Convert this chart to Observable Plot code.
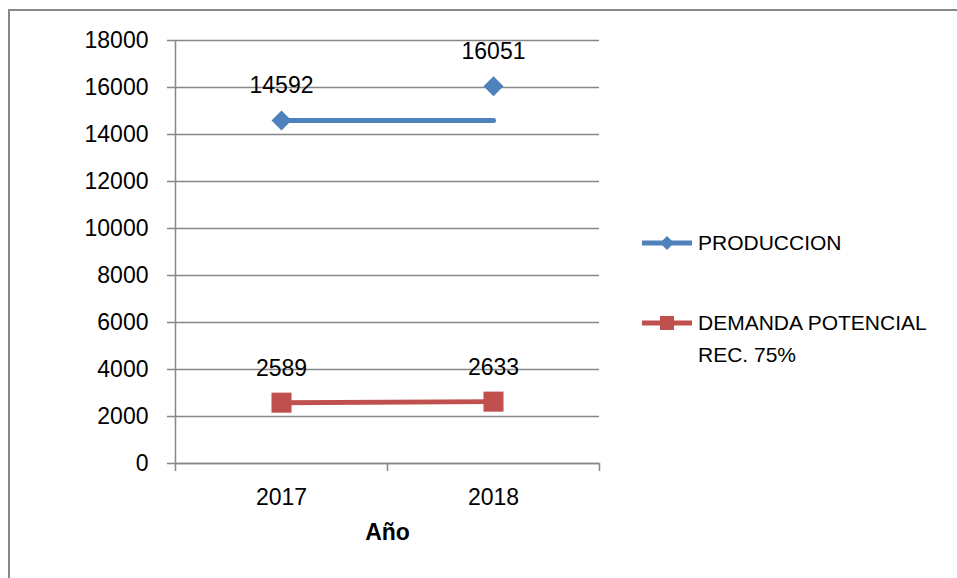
<!DOCTYPE html>
<html>
<head>
<meta charset="utf-8">
<script src="https://cdn.jsdelivr.net/npm/d3@7"></script>
<script src="https://cdn.jsdelivr.net/npm/@observablehq/plot@0.6"></script>
<style>
  html, body { margin: 0; padding: 0; background: #fff; width: 957px; height: 578px; overflow: hidden; }
  #wrap { position: relative; width: 957px; height: 578px; font-family: "Liberation Sans", Arial, sans-serif; }
  #frame { position: absolute; left: 8px; top: 9px; width: 1000px; height: 700px; border: 2px solid #878787; box-sizing: border-box; pointer-events: none; }
  #chart { position: absolute; left: 0; top: 0; }
  #legend { position: absolute; left: 642px; top: 227px; font-size: 21px; color: #000; }
  .item { display: flex; align-items: flex-start; position: absolute; left: 0; white-space: nowrap; line-height: 32px; }
  .item svg { margin-top: 0; margin-right: 6px; }
</style>
</head>
<body>
<div id="wrap">
  <div id="chart"></div>
  <div id="frame"></div>
  <div id="legend"></div>
</div>
<script>
// ---- data ----
const years = [2017, 2018];
const produccion = [14592, 16051];
const demanda = [2589, 2633];
// line of the PRODUCCION series as drawn in the picture (flat segment)
const produccionLinea = [14592, 14592];
const yTicks = [0, 2000, 4000, 6000, 8000, 10000, 12000, 14000, 16000, 18000];
const categoryBounds = [2016.5, 2017.5, 2018.5];
const seriesNames = ["PRODUCCION", "DEMANDA POTENCIAL\nREC. 75%"];
const xTitle = "Año";

const blue = "#4F81BD";
const red = "#C0504D";
const grid = "#878787";

const prodPts = years.map((y, i) => ({year: y, value: produccion[i]}));
const prodLine = years.map((y, i) => ({year: y, value: produccionLinea[i]}));
const demPts = years.map((y, i) => ({year: y, value: demanda[i]}));

const plot = Plot.plot({
  width: 957,
  height: 578,
  marginLeft: 175,
  marginRight: 358,
  marginTop: 40,
  marginBottom: 115,
  style: {fontFamily: "Liberation Sans, Arial, sans-serif", fontSize: "23px", color: "#000", background: "transparent"},
  x: {type: "linear", domain: [2016.5, 2018.5]},
  y: {domain: [0, 18000]},
  marks: [
    Plot.gridY(yTicks, {stroke: grid, strokeOpacity: 1, strokeWidth: 1.5}),
    Plot.ruleX([categoryBounds[0]], {stroke: grid, strokeWidth: 1.5}),
    Plot.ruleY([0], {stroke: grid, strokeWidth: 1.5}),
    Plot.axisY(yTicks, {tickSize: 8, tickPadding: 19, stroke: grid, strokeWidth: 1.5, tickFormat: d => String(d), label: null, fontSize: 23}),
    Plot.axisX(categoryBounds, {tickSize: 8, stroke: grid, strokeWidth: 1.5, tickFormat: () => "", label: null}),
    Plot.axisX(years, {tickSize: 0, tickPadding: 25, tickFormat: d => String(d), label: null, fontSize: 23}),
    Plot.line(prodLine, {x: "year", y: "value", stroke: blue, strokeWidth: 5}),
    Plot.line(demPts, {x: "year", y: "value", stroke: red, strokeWidth: 5}),
    Plot.dot(prodPts, {x: "year", y: "value", symbol: "diamond2", r: 9, fill: blue, stroke: "none"}),
    Plot.dot(demPts, {x: "year", y: "value", symbol: "square", r: 11.3, fill: red, stroke: "none"}),
    Plot.text(prodPts, {x: "year", y: "value", text: d => String(d.value), dy: -35, fontSize: 23, fill: "#000"}),
    Plot.text(demPts, {x: "year", y: "value", text: d => String(d.value), dy: -34, fontSize: 23, fill: "#000"}),
    Plot.text([xTitle], {frameAnchor: "bottom", dy: 76, fontSize: 23, fontWeight: "bold", fill: "#000"})
  ]
});
document.getElementById("chart").appendChild(plot);

// ---- legend ----
const legend = document.getElementById("legend");
const items = [
  {name: seriesNames[0], color: blue, symbol: "diamond", top: 0},
  {name: seriesNames[1], color: red, symbol: "square", top: 80}
];
items.forEach(it => {
  const div = document.createElement("div");
  div.className = "item";
  div.style.top = it.top + "px";
  const sw = it.symbol === "diamond"
    ? `<svg width="50" height="32"><line x1="0" y1="16" x2="50" y2="16" stroke="${it.color}" stroke-width="5"/><path d="M25,9 L32,16 L25,23 L18,16 Z" fill="${it.color}"/></svg>`
    : `<svg width="50" height="32"><line x1="0" y1="16" x2="50" y2="16" stroke="${it.color}" stroke-width="5"/><rect x="18" y="9" width="14" height="14" fill="${it.color}"/></svg>`;
  div.innerHTML = sw + `<span>${it.name.replace("\n", "<br>")}</span>`;
  legend.appendChild(div);
});
</script>
</body>
</html>
